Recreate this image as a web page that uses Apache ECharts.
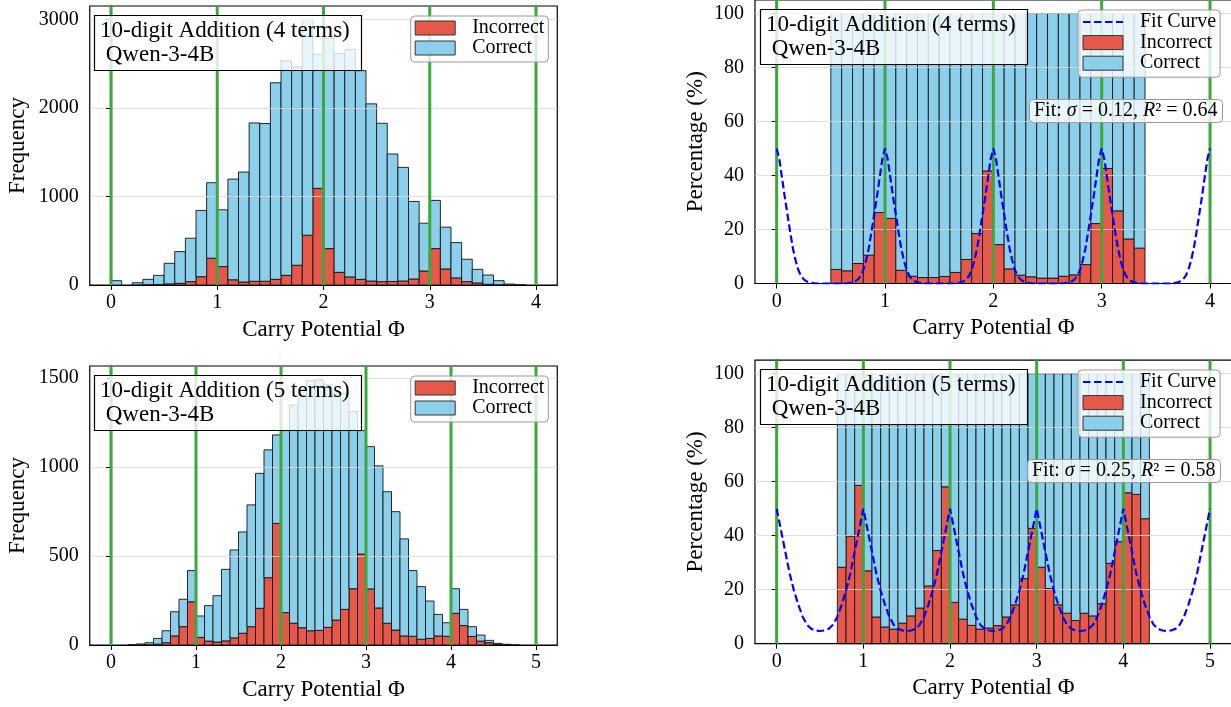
<!DOCTYPE html>
<html><head><meta charset="utf-8">
<script src="https://cdn.jsdelivr.net/npm/echarts@6/dist/echarts.min.js"></script>
<style>html,body{margin:0;padding:0;background:#fff}#c{width:1231px;height:707px}</style>
</head><body><div id="c"></div>
<script>
const FONT = 'Liberation Serif';
const RED = '#e6594a';
const BLUE = '#8ccfea';
const GREEN = '#3ca83c';

// ---------- data ----------
const binWidth = 0.1;
// Panel A: 10-digit Addition (4 terms) counts, bins from 0.0
const binStartA = 0.0;
const totalA = [49, 0, 26, 64, 109, 245, 377, 528, 842, 1155, 849, 1196, 1275, 1830, 1823, 2283, 2532, 2464, 3000, 2607,
  2788, 2615, 2660, 2420, 2045, 1826, 1479, 1328, 943, 698, 955, 653, 479, 291, 177, 113, 49, 11, 3];
const incorrectA = [0, 0, 2, 4, 6, 13, 19, 38, 94, 302, 208, 59, 34, 42, 42, 64, 109, 223, 562, 1091,
  411, 143, 91, 64, 45, 38, 40, 45, 68, 158, 411, 181, 80, 38, 23, 8, 3, 1, 0];
// Panel B: incorrect percentage (4 terms), bins from 0.5
const binStartB = 0.5;
const incorrectPctB = [5.2, 4.7, 7.4, 10.5, 26.3, 24.1, 4.9, 2.7, 2.2, 2.2, 2.6, 4.1, 8.9, 18.5, 41.7, 14.4, 5.4, 3.1, 2.5, 2.0,
  2.0, 2.7, 3.2, 7.0, 22.2, 42.6, 26.9, 16.5, 13.1];
// Panel C: 10-digit Addition (5 terms) counts, bins from 0.0
const binStartC = 0.0;
const totalC = [0, 0, 2, 6, 13, 37, 80, 187, 257, 418, 163, 221, 277, 425, 534, 635, 787, 964, 1096, 1180,
  1205, 1348, 1436, 1485, 1489, 1461, 1414, 1414, 1311, 1204, 1114, 1006, 861, 749, 596, 418, 328, 247, 172, 125,
  316, 200, 103, 56, 26, 9, 4, 1];
const incorrectC = [0, 0, 0, 1, 2, 5, 13, 51, 103, 243, 43, 22, 17, 23, 40, 66, 103, 206, 378, 683,
  182, 122, 97, 80, 82, 99, 140, 200, 316, 511, 315, 208, 122, 84, 51, 49, 32, 37, 51, 49,
  178, 109, 48, 22, 13, 4, 1, 0];
// Panel D: incorrect percentage (5 terms), bins from 0.7
const binStartD = 0.7;
const incorrectPctD = [28.3, 39.9, 58.6, 27.0, 9.9, 6.2, 5.4, 7.6, 10.3, 13.2, 21.4, 34.5, 58.1, 15.3, 9.1, 6.8, 5.4, 5.8, 6.7, 9.9,
  14.4, 24.1, 42.7, 28.3, 20.4, 14.4, 11.3, 8.6, 11.3, 10.3, 14.8, 29.8, 37.8, 55.9, 55.3, 46.3];
// Fit curves (percentage)
const fitStepB = 0.025;
const fitB = [
  50,46,39,32,25.5,19,13,8.5,5,2.8,1.5,0.8,0.4,0.2,0.1,0,0,0,0,0,0,0,0,0,0,0,0.1,0.2,0.4,0.8,1.5,2.8,5,8.5,13,19,25.5,32,39,46,
  50,46,39,32,25.5,19,13,8.5,5,2.8,1.5,0.8,0.4,0.2,0.1,0,0,0,0,0,0,0,0,0,0,0,0.1,0.2,0.4,0.8,1.5,2.8,5,8.5,13,19,25.5,32,39,46,
  50,46,39,32,25.5,19,13,8.5,5,2.8,1.5,0.8,0.4,0.2,0.1,0,0,0,0,0,0,0,0,0,0,0,0.1,0.2,0.4,0.8,1.5,2.8,5,8.5,13,19,25.5,32,39,46,
  50,46,39,32,25.5,19,13,8.5,5,2.8,1.5,0.8,0.4,0.2,0.1,0,0,0,0,0,0,0,0,0,0,0,0.1,0.2,0.4,0.8,1.5,2.8,5,8.5,13,19,25.5,32,39,46,
  50];
const fitStepD = 0.05;
const fitD = [
  50,42,34,26,19.6,14.4,10,7,5.5,4.9,4.7,4.9,5.5,7,10,14.4,19.6,26,34,42,
  50,42,34,26,19.6,14.4,10,7,5.5,4.9,4.7,4.9,5.5,7,10,14.4,19.6,26,34,42,
  50,42,34,26,19.6,14.4,10,7,5.5,4.9,4.7,4.9,5.5,7,10,14.4,19.6,26,34,42,
  50,42,34,26,19.6,14.4,10,7,5.5,4.9,4.7,4.9,5.5,7,10,14.4,19.6,26,34,42,
  50,42,34,26,19.6,14.4,10,7,5.5,4.9,4.7,4.9,5.5,7,10,14.4,19.6,26,34,42,
  50];
const xTicks4 = [0, 1, 2, 3, 4];
const xTicks5 = [0, 1, 2, 3, 4, 5];
const yTicksA = [0, 1000, 2000, 3000];
const yTicksC = [0, 500, 1000, 1500];
const yTicksPct = [0, 20, 40, 60, 80, 100];
const titleA = '10-digit Addition (4 terms)\n Qwen-3-4B';
const titleC = '10-digit Addition (5 terms)\n Qwen-3-4B';
const fitB_sigma = '0.12', fitB_r2 = '0.64';
const fitD_sigma = '0.25', fitD_r2 = '0.58';
const xName = 'Carry Potential Φ';

// ---------- build ----------
const grids = [
  {left: 89.75, top: 6, width: 467.5, height: 279},
  {left: 755, top: 0, width: 476.7, height: 283.5},
  {left: 89.75, top: 366, width: 467.5, height: 279},
  {left: 755, top: 360.2, width: 476.7, height: 283.5}
].map(g => Object.assign({show: true, borderColor: '#000', borderWidth: 1.2, backgroundColor: 'transparent', outerBoundsMode: 'none', containLabel: false}, g));

function xAxis(i, min, max, ticks) {
  return {gridIndex: i, type: 'value', min, max, z: 2,
    name: xName, nameLocation: 'middle', nameGap: 33,
    nameTextStyle: {fontFamily: FONT, fontSize: 23, color: '#000'},
    axisLine: {show: true, onZero: false, lineStyle: {color: '#000', width: 1.2}},
    axisTick: {show: true, length: 5, lineStyle: {color: '#000', width: 1}, customValues: ticks},
    axisLabel: {show: true, margin: 8, fontFamily: FONT, fontSize: 20, color: '#000', customValues: ticks, formatter: v => String(v)},
    splitLine: {show: false}};
}
function yAxis(i, max, interval, ticks, name, gap) {
  return {gridIndex: i, type: 'value', min: 0, max, interval, z: 2,
    name, nameLocation: 'middle', nameGap: gap,
    nameTextStyle: {fontFamily: FONT, fontSize: 23, color: '#000'},
    axisLine: {show: true, lineStyle: {color: '#000', width: 1.2}},
    axisTick: {show: true, length: 5, lineStyle: {color: '#000', width: 1}, customValues: ticks},
    axisLabel: {show: true, margin: 11, fontFamily: FONT, fontSize: 20, color: '#000', customValues: ticks, formatter: v => String(v)},
    splitLine: {show: true, lineStyle: {color: 'rgba(215,215,215,0.8)', width: 1}}};
}

function rectSeries(name, idx, rects, color) {
  return {type: 'custom', name, xAxisIndex: idx, yAxisIndex: idx, z: 1, animation: false,
    itemStyle: {color, borderColor: '#222', borderWidth: 1},
    encode: {x: [0, 1], y: [2, 3]},
    data: rects.filter(r => r[3] > r[2]),
    renderItem(params, api) {
      const p0 = api.coord([api.value(0), api.value(2)]);
      const p1 = api.coord([api.value(1), api.value(3)]);
      return {type: 'rect', shape: {x: p0[0], y: p1[1], width: p1[0] - p0[0], height: p0[1] - p1[1]},
        style: {fill: color, stroke: 'rgba(20,20,20,0.9)', lineWidth: 1}};
    }};
}
function countRects(start, inc, tot) {
  const red = [], blue = [];
  tot.forEach((t, i) => {
    const x0 = start + i * binWidth, x1 = x0 + binWidth;
    red.push([x0, x1, 0, inc[i]]);
    blue.push([x0, x1, inc[i], t]);
  });
  return [red, blue];
}
function pctRects(start, pct) {
  const red = [], blue = [];
  pct.forEach((p, i) => {
    const x0 = start + i * binWidth, x1 = x0 + binWidth;
    red.push([x0, x1, 0, p]);
    blue.push([x0, x1, p, 100]);
  });
  return [red, blue];
}
function greenLines(idx, ticks) {
  return {type: 'custom', xAxisIndex: idx, yAxisIndex: idx, z: 3, silent: true, animation: false,
    encode: {x: 0, y: 1},
    data: ticks.map(t => [t, 0]),
    renderItem(params, api) {
      const cs = params.coordSys;
      const x = api.coord([api.value(0), 0])[0];
      return {type: 'line', shape: {x1: x, y1: cs.y, x2: x, y2: cs.y + cs.height},
        style: {stroke: GREEN, lineWidth: 3}};
    }};
}
function fitSeries(idx, step, vals) {
  return {type: 'line', name: 'Fit Curve', xAxisIndex: idx, yAxisIndex: idx, z: 4, animation: false,
    symbol: 'none', showSymbol: false, smooth: false,
    lineStyle: {color: '#0000ff', width: 2.2, type: [7.5, 3.5]},
    itemStyle: {color: '#0000ff'},
    data: vals.map((v, i) => [i * step, v])};
}

const [redA, blueA] = countRects(binStartA, incorrectA, totalA);
const [redC, blueC] = countRects(binStartC, incorrectC, totalC);
const [redB, blueB] = pctRects(binStartB, incorrectPctB);
const [redD, blueD] = pctRects(binStartD, incorrectPctD);

const series = [
  rectSeries('Incorrect', 0, redA, RED), rectSeries('Correct', 0, blueA, BLUE), greenLines(0, xTicks4),
  rectSeries('Incorrect', 1, redB, RED), rectSeries('Correct', 1, blueB, BLUE), greenLines(1, xTicks4), fitSeries(1, fitStepB, fitB),
  rectSeries('Incorrect', 2, redC, RED), rectSeries('Correct', 2, blueC, BLUE), greenLines(2, xTicks5),
  rectSeries('Incorrect', 3, redD, RED), rectSeries('Correct', 3, blueD, BLUE), greenLines(3, xTicks5), fitSeries(3, fitStepD, fitD)
];

function boxTitle(text, left, top) {
  return {text, left, top, z: 10, padding: [4, 12, 4, 6],
    backgroundColor: 'rgba(255,255,255,0.8)', borderColor: '#000', borderWidth: 1.2, borderRadius: 0,
    textStyle: {fontFamily: FONT, fontSize: 23, fontWeight: 'normal', color: '#000', lineHeight: 24}};
}
function fitTitle(sig, r2, left, top) {
  return {text: '{a|Fit: }{i|σ}{a| = ' + sig + ', }{i|R}{a|² = ' + r2 + '}', left, top, z: 10, padding: [1, 5, 1, 5],
    backgroundColor: 'rgba(255,255,255,0.8)', borderColor: '#999', borderWidth: 1, borderRadius: 4,
    textStyle: {fontFamily: FONT, fontSize: 20, fontWeight: 'normal', color: '#000', lineHeight: 22,
      rich: {a: {fontFamily: FONT, fontSize: 20, color: '#000', lineHeight: 22},
             i: {fontFamily: FONT, fontSize: 20, fontStyle: 'italic', color: '#000', lineHeight: 22}}}};
}
function legend(left, top, withFit) {
  const data = [];
  if (withFit) data.push({name: 'Fit Curve', itemStyle: {opacity: 0}});
  data.push({name: 'Incorrect', icon: 'rect', itemStyle: {borderColor: '#333', borderWidth: 1}});
  data.push({name: 'Correct', icon: 'rect', itemStyle: {borderColor: '#333', borderWidth: 1}});
  return {left, top, orient: 'vertical', z: 10, selectedMode: false,
    itemWidth: 40, itemHeight: 14, itemGap: withFit ? 0.6 : 0, padding: [2, 4, 4, 4],
    backgroundColor: 'rgba(255,255,255,0.8)', borderColor: '#999', borderWidth: 1, borderRadius: 4,
    textStyle: {fontFamily: FONT, fontSize: 20, color: '#000', lineHeight: 20, padding: [0, 0, 0, 12]},
    data};
}

const option = {
  animation: false,
  backgroundColor: '#fff',
  grid: grids,
  xAxis: [xAxis(0, -0.2, 4.2, xTicks4), xAxis(1, -0.2, 4.2, xTicks4), xAxis(2, -0.25, 5.25, xTicks5), xAxis(3, -0.25, 5.25, xTicks5)],
  yAxis: [yAxis(0, 3150, 1000, yTicksA, 'Frequency', 60), yAxis(1, 105, 20, yTicksPct, 'Percentage (%)', 48),
          yAxis(2, 1567, 500, yTicksC, 'Frequency', 60), yAxis(3, 105, 20, yTicksPct, 'Percentage (%)', 48)],
  title: [boxTitle(titleA, 94, 15), boxTitle(titleA, 760, 9), boxTitle(titleC, 94, 375), boxTitle(titleC, 760, 369),
          fitTitle(fitB_sigma, fitB_r2, 1029, 99), fitTitle(fitD_sigma, fitD_r2, 1027, 459)],
  legend: [legend(410.7, 16, false), legend(1078, 10, true), legend(410.7, 376, false), legend(1078, 370, true)],
  series
};
const chart = echarts.init(document.getElementById('c'), null, {renderer: 'canvas'});
chart.setOption(option);
</script></body></html>
